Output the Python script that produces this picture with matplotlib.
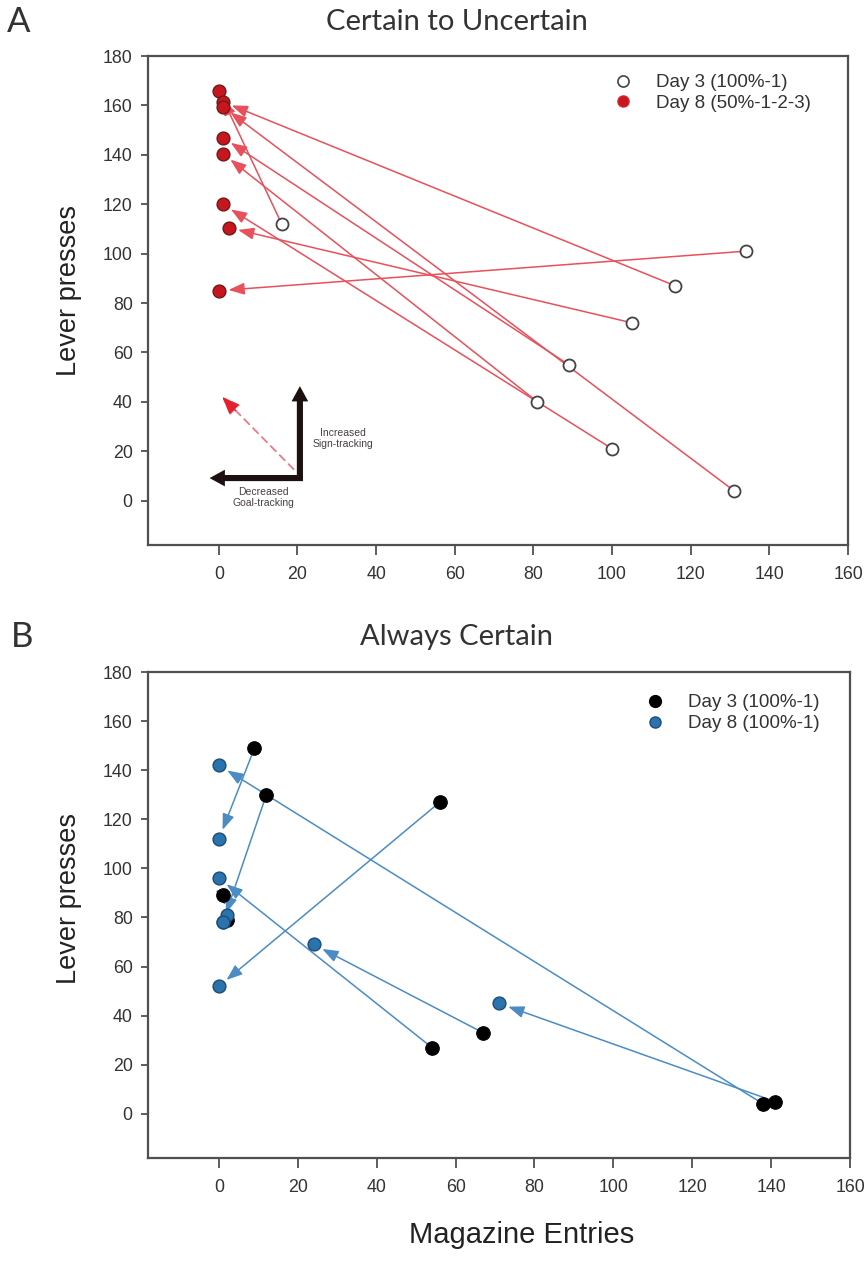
import matplotlib
matplotlib.use('Agg')
import matplotlib.pyplot as plt
from matplotlib.lines import Line2D

# ── Panel A: Certain to Uncertain (Day 3 -> Day 8, paired by index) ──
a_day3_x = [16, 116, 131, 134, 105, 89, 81, 100]
a_day3_y = [112, 87, 4, 101, 72, 55, 40, 21]
a_day8_x = [0, 1, 1, 0, 2.5, 1, 1, 1]
a_day8_y = [166, 161.5, 159.5, 85, 110.5, 147, 140.5, 120]
a_labels = ['Day 3 (100%-1)', 'Day 8 (50%-1-2-3)']

# ── Panel B: Always Certain ──
b_day3_x = [9, 12, 56, 54, 67, 141, 138, 1, 2]
b_day3_y = [149, 130, 127, 27, 33, 5, 4, 89, 79]
b_day8_x = [0, 1, 0, 0, 24, 71, 0, 2, 1]
b_day8_y = [112, 78, 52, 96, 69, 45, 142, 81, 78]
b_labels = ['Day 3 (100%-1)', 'Day 8 (100%-1)']

x_ticks = list(range(0, 161, 20))
y_ticks = list(range(0, 181, 20))

RED_LINE = '#e8505b'
RED_DOT = '#c8161f'
BLUE_LINE = '#4b8cc4'
BLUE_DOT = '#2a73ad'
SPINE = '#505050'
TXT = '#333333'

plt.rcParams['font.family'] = ['Liberation Sans', 'DejaVu Sans']

fig = plt.figure(figsize=(8.67, 12.62), dpi=100)
ax_a = fig.add_axes([0.1707, 0.5681, 0.8074, 0.3875])
ax_b = fig.add_axes([0.1707, 0.0824, 0.8097, 0.3851])


def style_axes(ax):
    ax.set_xlim(-18, 160)
    ax.set_ylim(-18, 180)
    ax.set_xticks(x_ticks)
    ax.set_yticks(y_ticks)
    ax.tick_params(axis='x', length=7, width=1.3, pad=8, labelsize=12.8,
                   colors=SPINE, labelcolor=TXT)
    ax.tick_params(axis='y', length=5, width=1.3, pad=6, labelsize=12.8,
                   colors=SPINE, labelcolor=TXT)
    for sp in ax.spines.values():
        sp.set_color(SPINE)
        sp.set_linewidth(1.6)
    ax.set_ylabel('Lever presses', fontsize=19.5, color='#222222')


def draw_pairs(ax, x0, y0, x1, y1, col):
    for xa, ya, xb, yb in zip(x0, y0, x1, y1):
        if abs(xa - xb) + abs(ya - yb) < 5:
            continue
        ax.annotate('', xy=(xb, yb), xytext=(xa, ya), zorder=2,
                    arrowprops=dict(arrowstyle='-|>,head_length=0.8,head_width=0.3',
                                    color=col, lw=1.1, shrinkA=3, shrinkB=7,
                                    mutation_scale=12))


# ── A ──
style_axes(ax_a)
draw_pairs(ax_a, a_day3_x, a_day3_y, a_day8_x, a_day8_y, RED_LINE)
ax_a.scatter(a_day3_x, a_day3_y, s=75, facecolor='white', edgecolor='#444444',
             linewidths=1.3, zorder=4)
ax_a.scatter(a_day8_x, a_day8_y, s=85, facecolor=RED_DOT, edgecolor='#6e1a1a',
             linewidths=1.0, zorder=4)
ax_a.yaxis.set_label_coords(-0.094, 0.52)
h_a = [Line2D([], [], ls='none', marker='o', ms=8, mfc='white', mec='#444444', mew=1.2),
       Line2D([], [], ls='none', marker='o', ms=8, mfc=RED_DOT, mec='#e02030', mew=1.0)]
fig.legend(h_a, a_labels, loc='upper left', bbox_to_anchor=(0.708, 0.9414),
           frameon=False, fontsize=13.5, handlelength=1.0, handletextpad=1.25,
           borderpad=0, borderaxespad=0, labelspacing=0.2, labelcolor=TXT)

# schema: black L arrows + dashed red diagonal (axes fraction)
tr = ax_a.transAxes
corner = (0.217, 0.137)
black_arrow = dict(arrowstyle='simple,head_length=0.55,head_width=0.6,tail_width=0.22',
                   fc='#1c1010', ec='none', mutation_scale=20, shrinkA=0, shrinkB=0)
ax_a.annotate('', xy=(0.217, 0.325), xytext=corner, xycoords=tr, textcoords=tr,
              arrowprops=black_arrow)
ax_a.annotate('', xy=(0.088, 0.137), xytext=(0.2214, 0.137), xycoords=tr, textcoords=tr,
              arrowprops=black_arrow)
ax_a.annotate('', xy=(0.106, 0.303), xytext=(0.208, 0.155), xycoords=tr, textcoords=tr,
              arrowprops=dict(arrowstyle='-|>,head_length=0.9,head_width=0.35', color='#ec7a84',
                              ls=(0, (4, 3)), lw=1.3, mutation_scale=12, shrinkA=0, shrinkB=0))
ax_a.annotate('', xy=(0.106, 0.303), xytext=(0.125, 0.275), xycoords=tr, textcoords=tr,
              arrowprops=dict(arrowstyle='-|>,head_length=0.9,head_width=0.35', color='#e8202e',
                              lw=1.0, mutation_scale=12, shrinkA=0, shrinkB=0))
ax_a.text(0.278, 0.218, 'Increased\nSign-tracking', transform=tr, fontsize=7.5,
          ha='center', va='center', color='#4a4040', linespacing=1.15)
ax_a.text(0.165, 0.098, 'Decreased\nGoal-tracking', transform=tr, fontsize=7.5,
          ha='center', va='center', color='#4a4040', linespacing=1.15)

# ── B ──
style_axes(ax_b)
draw_pairs(ax_b, b_day3_x, b_day3_y, b_day8_x, b_day8_y, BLUE_LINE)
ax_b.scatter(b_day3_x, b_day3_y, s=95, facecolor='black', edgecolor='black',
             linewidths=0.8, zorder=4)
ax_b.scatter(b_day8_x, b_day8_y, s=85, facecolor=BLUE_DOT, edgecolor='#1d4c78',
             linewidths=1.0, zorder=5)
ax_b.yaxis.set_label_coords(-0.094, 0.535)
h_b = [Line2D([], [], ls='none', marker='o', ms=8.5, mfc='black', mec='black'),
       Line2D([], [], ls='none', marker='o', ms=8, mfc=BLUE_DOT, mec='#1d4c78')]
fig.legend(h_b, b_labels, loc='upper left', bbox_to_anchor=(0.7446, 0.450),
           frameon=False, fontsize=13.5, handlelength=1.0, handletextpad=1.25,
           borderpad=0, borderaxespad=0, labelspacing=0.2, labelcolor=TXT)

# ── Titles, panel letters, shared x label ──
fig.text(0.527, 0.9826, 'Certain to Uncertain', family='Lato', fontsize=21,
         ha='center', va='center', color='#333333')
fig.text(0.527, 0.4952, 'Always Certain', family='Lato', fontsize=21,
         ha='center', va='center', color='#333333')
fig.text(0.021, 0.9826, 'A', family='Lato', fontsize=25, ha='center', va='center',
         color='#333333')
fig.text(0.026, 0.4952, 'B', family='Lato', fontsize=25, ha='center', va='center',
         color='#333333')
fig.text(0.602, 0.0214, 'Magazine Entries', fontsize=21, ha='center', va='center',
         color='#222222')

fig.savefig('out.png', dpi=100)
